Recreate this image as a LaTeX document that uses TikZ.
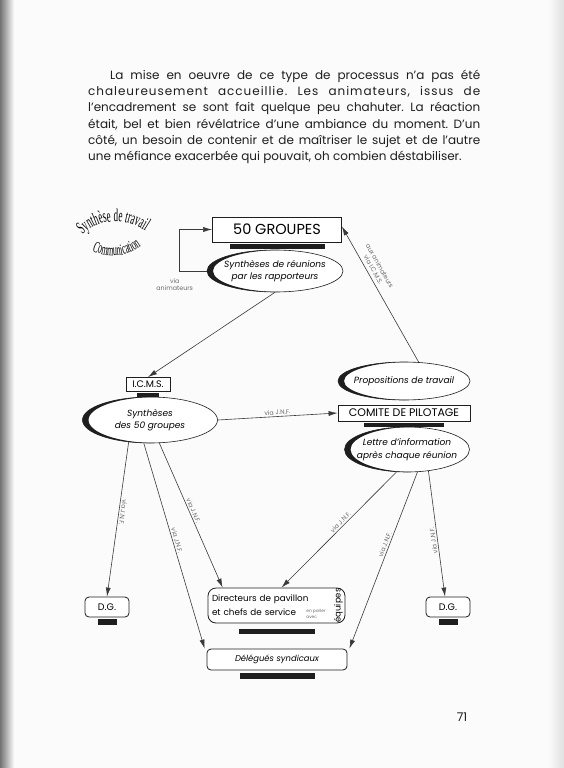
\documentclass[tikz,border=0pt]{standalone}
\usepackage{fontspec}
\setmainfont{Poppins}
\newfontfamily\archfont[FakeStretch=0.5]{Liberation Serif}
\usetikzlibrary{arrows.meta, positioning, shapes.geometric, calc, decorations.text}
\definecolor{cInk}{HTML}{1E1E1E}
\definecolor{cLine}{HTML}{3A3A3A}
\definecolor{cNote}{HTML}{6A6A6A}
\definecolor{cPaper}{HTML}{FBFBFB}
\tikzset{
  prose/.style={text width=392pt, align=justify, inner sep=0pt,
    font=\fontsize{12}{16.2}\selectfont\frenchspacing, text=cInk},
  box/.style={draw=cInk, line width=0.8pt, fill=white, inner sep=2pt,
    font=\fontsize{9.5}{12}\selectfont},
  panel/.style={box, rounded corners=4pt},
  shelf/.style={fill=cInk, minimum height=5pt, inner sep=0pt},
  bubble/.style={ellipse, draw=cInk, line width=0.6pt, fill=white,
    inner xsep=-14pt, inner ysep=0pt, align=center,
    font=\itshape\fontsize{9}{12.5}\selectfont,
    path picture={\fill[cInk, even odd rule]
      let \p1=(path picture bounding box.south west),
          \p2=(path picture bounding box.north east) in
      (\p1) rectangle (\p2)
      ($(\p1)!.5!(\p2)+(6pt,0pt)$) ellipse [x radius={(\x2-\x1)/2}, y radius={(\y2-\y1)/2}];}},
  flow/.style={-{Latex[length=9pt, width=5pt]}, line width=0.6pt, draw=cLine},
  vialabel/.style={font=\fontsize{6.3}{7.3}\selectfont, text=cNote, inner sep=1.5pt},
  archtext/.style={decorate, decoration={text along path, text align=center}},
}

\begin{document}
\begin{tikzpicture}[x=1pt, y=-1pt]

  % page
  \fill[cPaper] (0,0) rectangle (564,768);
  \useasboundingbox (0,0) rectangle (564,768);
  \shade[left color=black!55, right color=cPaper] (0,0) rectangle (14,768);
  \shade[left color=cPaper, right color=black!12] (548,0) rectangle (564,768);

  % opening paragraph
  \node[prose, anchor=north west] (intro) at (88,70)
    {\hspace*{22pt}La mise en oeuvre de ce type de processus n'a pas été\linebreak
     {\addfontfeature{LetterSpace=8}chaleureusement accueillie. Les animateurs, issus de}\linebreak
     l'encadrement se sont fait quelque peu chahuter. La réaction\linebreak
     était, bel et bien révélatrice d'une ambiance du moment. D'un\linebreak
     côté, un besoin de contenir et de maîtriser le sujet et de l'autre\linebreak
     une méfiance exacerbée qui pouvait, oh combien déstabiliser.};

  % curved heading
  \path[archtext, decoration={text={|\archfont\fontsize{18}{18}\selectfont|Synthèse de travail}}]
    (80,237) .. controls (100,217) and (126,217) .. (148,233);
  \path[archtext, decoration={text={|\archfont\fontsize{16}{16}\selectfont|Communication}}]
    (84,247) .. controls (105,259) and (128,260) .. (148,241);

  % top: groups and their meetings
  \node[box, minimum width=129pt, minimum height=25pt, font=\fontsize{14.5}{16}\selectfont] (groups) at (277,229.5) {50 GROUPES};
  \node[shelf, minimum width=95pt, below=1pt of groups] (groupsbar) {};
  \node[bubble, minimum width=136pt, minimum height=42pt] (reunions) at (275,271)
    {Synthèses de réunions\\ par les rapporteurs};

  \draw[flow] (reunions.west) -- ++(-27pt,0pt)
    node[vialabel, below=6pt, xshift=-5pt, align=center] (loopnote) {via\\ animateurs}
    |- (groups.west);

  % I.C.M.S.
  \node[box, minimum width=44pt, minimum height=14pt, inner sep=1pt] (icms) at (148,384.5) {I.C.M.S.};
  \node[shelf, minimum width=22pt, below=1pt of icms] (icmsbar) {};
  \node[bubble, minimum width=135pt, minimum height=46pt] (synth) at (150,420)
    {Synthèses\\ des 50 groupes};
  \draw[flow] (reunions.south) -- (icms.north);

  % comite de pilotage
  \node[bubble, minimum width=132pt, minimum height=38pt] (props) at (404,381) {Propositions de travail};
  \node[box, minimum width=132pt, minimum height=16pt, inner sep=1pt, font=\fontsize{11}{13}\selectfont] (comite) at (404,413) {COMITE DE PILOTAGE};
  \node[shelf, minimum width=80pt, minimum height=4pt, below=1pt of comite] (comitebar) {};
  \node[bubble, minimum width=125pt, minimum height=45pt] (lettre) at (407,449.5)
    {Lettre d’information\\ après chaque réunion};

  \draw[flow] (props.52) -- ([yshift=3pt]groups.east)
    node[vialabel, pos=.66, sloped, above=2pt, align=center] (propsnote) {aux animateurs\\ via I.C.M.S.};
  \draw[flow] (synth.east) -- (comite.west)
    node[vialabel, midway, sloped, above] (jnf0) {via J.N.F.};

  % receivers
  \node[panel, minimum width=44pt, minimum height=20pt] (dgl) at (107,607) {D.G.};
  \node[shelf, minimum width=19pt, minimum height=6pt, below=1pt of dgl] (dglbar) {};
  \node[panel, minimum width=44pt, minimum height=20pt] (dgr) at (448,607) {D.G.};
  \node[shelf, minimum width=19pt, minimum height=6pt, below=1pt of dgr] (dgrbar) {};

  \node[panel, rounded corners=8pt, text width=129pt, align=left, inner sep=4pt,
    minimum height=35pt, font=\fontsize{8.8}{14}\selectfont] (dir) at (276.5,605.5)
    {Directeurs de pavillon\\ et chefs de service};
  \node[shelf, minimum width=76pt, below=5pt of dir] (dirbar) {};
  \node[font=\fontsize{4.3}{5.5}\selectfont, text=cNote, align=left, inner sep=0pt] (dirnote) at (316,614) {en parler\\ avec};
  \node[font=\fontsize{8.5}{10}\selectfont, rotate=90, inner sep=0pt] (dirteam) at (338.5,605.5) {équipes};

  \node[panel, minimum width=140pt, minimum height=21pt, font=\itshape\fontsize{8.4}{12}\selectfont] (deleg) at (277,659.5) {Délégués syndicaux};
  \node[shelf, minimum width=75pt, minimum height=6pt, below=2pt of deleg] (delegbar) {};

  % distribution
  \draw[flow] (synth.226) -- (dgl.north)
    node[vialabel, pos=.45, sloped, allow upside down, above] (jnf1) {via J.N.F.};
  \draw[flow] (synth.255) -- ([xshift=-2pt]deleg.north west)
    node[vialabel, pos=.48, sloped, allow upside down, above] (jnf2) {via J.N.F.};
  \draw[flow] (synth.292) -- ([xshift=15pt]dir.north west)
    node[vialabel, pos=.48, sloped, allow upside down, above] (jnf3) {via J.N.F.};
  \draw[flow] (lettre.245) -- ([xshift=5pt]dir.north)
    node[vialabel, pos=.46, sloped, above] (jnf4) {via J.N.F.};
  \draw[flow] (lettre.295) -- ([xshift=2pt]deleg.north east)
    node[vialabel, pos=.42, sloped, above] (jnf5) {via J.N.F.};
  \draw[flow] (lettre.315) -- ([xshift=-3pt]dgr.north)
    node[vialabel, pos=.55, anchor=south, rotate=98] (jnf6) {via J.N.F.};

  % folio
  \node[font=\fontsize{12}{14}\selectfont, text=cInk] (folio) at (462,717) {71};

\end{tikzpicture}
\end{document}
